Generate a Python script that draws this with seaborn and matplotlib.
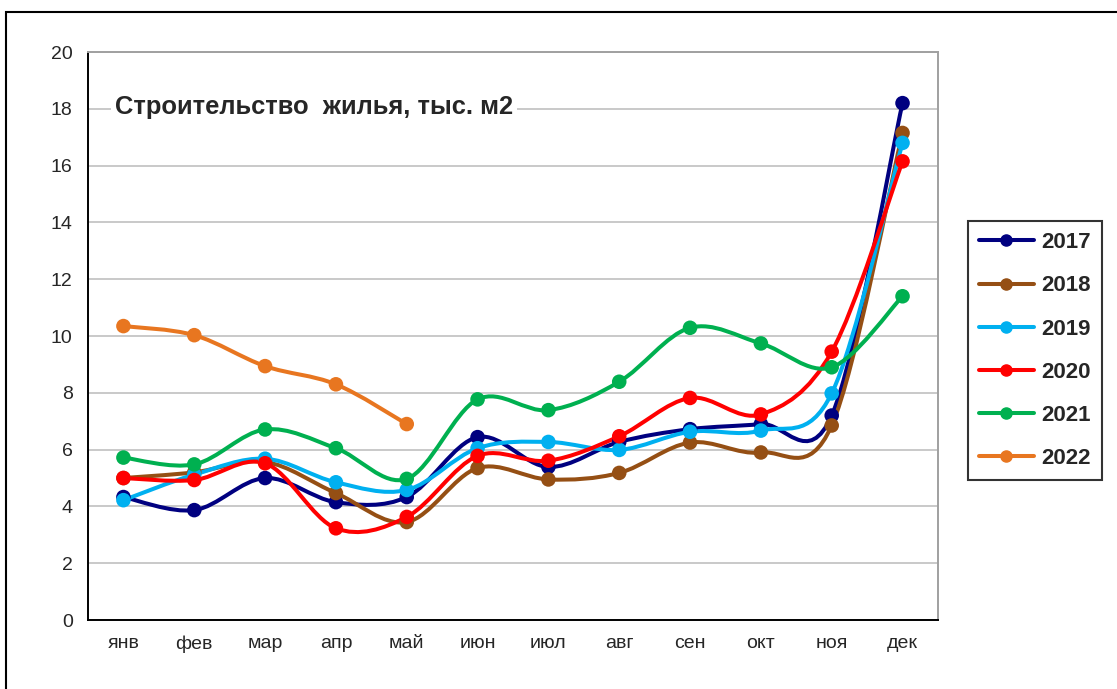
import matplotlib
matplotlib.use("Agg")
import matplotlib.pyplot as plt
import seaborn as sns
import pandas as pd
import numpy as np
from matplotlib.path import Path
from matplotlib.patches import PathPatch, Rectangle
from matplotlib.lines import Line2D
from matplotlib.ticker import FixedLocator, NullFormatter

months = ["янв", "фев", "мар", "апр", "май", "июн", "июл", "авг", "сен", "окт", "ноя", "дек"]
years = ["2017", "2018", "2019", "2020", "2021", "2022"]

y2017 = [4.33, 3.87, 5.0, 4.15, 4.33, 6.44, 5.39, 6.27, 6.72, 6.9, 7.2, 18.2]
y2018 = [5.0, 5.2, 5.57, 4.47, 3.45, 5.35, 4.95, 5.18, 6.25, 5.9, 6.85, 17.15]
y2019 = [4.22, 5.12, 5.68, 4.85, 4.58, 6.05, 6.27, 5.99, 6.63, 6.67, 7.98, 16.8]
y2020 = [5.0, 4.93, 5.52, 3.23, 3.63, 5.78, 5.61, 6.47, 7.82, 7.24, 9.45, 16.15]
y2021 = [5.72, 5.48, 6.71, 6.05, 4.97, 7.77, 7.39, 8.39, 10.29, 9.74, 8.9, 11.4]
y2022 = [10.35, 10.03, 8.94, 8.3, 6.9]

series = {"2017": y2017, "2018": y2018, "2019": y2019,
          "2020": y2020, "2021": y2021, "2022": y2022}
colors = {"2017": "#000080", "2018": "#954F14", "2019": "#00B0F0",
          "2020": "#FF0000", "2021": "#00B050", "2022": "#E87620"}

rows = []
for yr in years:
    for i, v in enumerate(series[yr]):
        rows.append({"month": i, "value": v, "year": yr})
df = pd.DataFrame(rows)

sns.set_style("white")
plt.rcParams["font.family"] = ["Liberation Sans", "DejaVu Sans"]

fig = plt.figure(figsize=(11.17, 6.89), dpi=100)
ax = fig.add_axes([0.0788, 0.1001, 0.7609, 0.8244])

# outer frame
fig.patches.append(Rectangle((6 / 1117, -0.1), 1.2, 1 - 12 / 689 + 0.1,
                             transform=fig.transFigure, fill=False,
                             edgecolor="black", linewidth=1.5))


def smooth_path(xs, ys):
    pts = np.column_stack([xs, ys])
    n = len(pts)
    verts = [pts[0]]
    codes = [Path.MOVETO]
    for i in range(n - 1):
        p0 = pts[i - 1] if i > 0 else pts[i]
        p1 = pts[i]
        p2 = pts[i + 1]
        p3 = pts[i + 2] if i + 2 < n else pts[i + 1]
        c1 = p1 + (p2 - p0) / 6
        c2 = p2 - (p3 - p1) / 6
        verts += [c1, c2, p2]
        codes += [Path.CURVE4] * 3
    return Path(verts, codes)


for yr in years:
    sub = df[df["year"] == yr]
    patch = PathPatch(smooth_path(sub["month"].values, sub["value"].values),
                      facecolor="none", edgecolor=colors[yr], linewidth=2.9,
                      zorder=3, capstyle="round", joinstyle="round")
    ax.add_patch(patch)

sns.scatterplot(data=df, x="month", y="value", hue="year", palette=colors,
                s=110, edgecolor="none", ax=ax, zorder=4, legend=False)

ax.set_xlim(-0.5, 11.5)
ax.set_ylim(0, 20)
ax.set_yticks(np.arange(0, 21, 2))
ax.yaxis.grid(True, color="#C0C0C0", linewidth=1.2)
ax.set_axisbelow(True)

ax.xaxis.set_major_locator(FixedLocator(np.arange(-0.5, 12, 1)))
ax.xaxis.set_major_formatter(NullFormatter())
ax.xaxis.set_minor_locator(FixedLocator(np.arange(12)))
ax.set_xticklabels(months, minor=True)
ax.tick_params(axis="x", which="major", length=7, width=1.2, color="black", direction="out")
ax.tick_params(axis="x", which="minor", length=0, labelsize=14, pad=11)
ax.tick_params(axis="y", length=6, width=1.2, color="black", direction="out", labelsize=14, pad=5)
ax.set_xlabel("")
ax.set_ylabel("")

for s in ["left", "bottom"]:
    ax.spines[s].set_color("black")
    ax.spines[s].set_linewidth(1.4)
for s in ["top", "right"]:
    ax.spines[s].set_color("#A0A0A0")
    ax.spines[s].set_linewidth(1.4)

ax.text(0.032, 0.903, "Строительство  жилья, тыс. м2", transform=ax.transAxes,
        fontsize=18.4, fontweight="bold", va="center", ha="left",
        bbox=dict(facecolor="white", edgecolor="none", pad=3), zorder=5)

handles = [Line2D([0], [0], color=colors[yr], lw=2.9, marker="o", ms=8) for yr in years]
leg = fig.legend(handles, years, loc="upper left", bbox_to_anchor=(968 / 1117, 1 - 221 / 689),
                 borderaxespad=0, frameon=True, fancybox=False, edgecolor="black",
                 handlelength=2.45, prop={"weight": "bold", "size": 16}, labelspacing=1.0,
                 borderpad=0.5, handletextpad=0.35)
leg.get_frame().set_linewidth(1.5)

fig.savefig("out.png", dpi=100)
